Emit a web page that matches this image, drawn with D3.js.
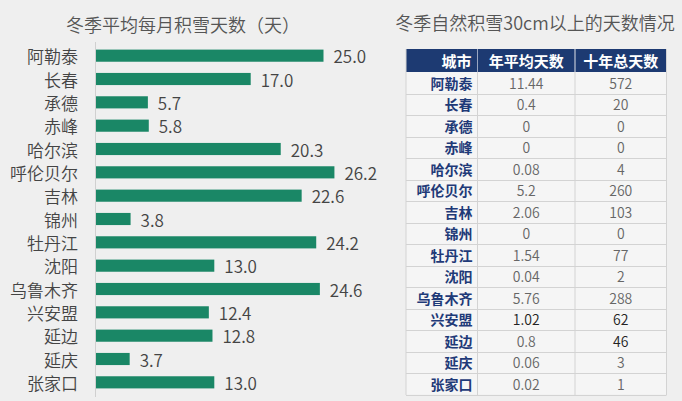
<!DOCTYPE html>
<html lang="zh">
<head>
<meta charset="UTF-8">
<script src="https://d3js.org/d3.v7.min.js"></script>
<title>冬季积雪天数</title>
<style>
  body { margin: 0; background: #efefef; }
  svg { display: block; font-family: "Noto Sans CJK SC", "Noto Sans", sans-serif; }
</style>
</head>
<body>
<svg id="chart"></svg>
<script>
// 城市
const cities = ["阿勒泰", "长春", "承德", "赤峰", "哈尔滨", "呼伦贝尔", "吉林", "锦州",
                "牡丹江", "沈阳", "乌鲁木齐", "兴安盟", "延边", "延庆", "张家口"];
// 冬季平均每月积雪天数
const monthlySnowDays = [25.0, 17.0, 5.7, 5.8, 20.3, 26.2, 22.6, 3.8, 24.2, 13.0, 24.6, 12.4, 12.8, 3.7, 13.0];
// 年平均天数 (积雪30cm以上)
const yearlyAvg = ["11.44", "0.4", "0", "0", "0.08", "5.2", "2.06", "0", "1.54", "0.04", "5.76", "1.02", "0.8", "0.06", "0.02"];
// 十年总天数
const tenYearTotal = ["572", "20", "0", "0", "4", "260", "103", "0", "77", "2", "288", "62", "46", "3", "1"];
const tableHeaders = ["城市", "年平均天数", "十年总天数"];

const W = 682, H = 401;
const svg = d3.select("#chart").attr("width", W).attr("height", H);

// ---------- left: bar chart ----------
svg.append("text")
   .attr("x", 183).attr("y", 24)
   .attr("text-anchor", "middle").attr("dominant-baseline", "central")
   .attr("font-size", 18).attr("font-weight", 350).attr("fill", "#555")
   .text("冬季平均每月积雪天数（天）");

const x = d3.scaleLinear().domain([0, 30]).range([96, 96 + 9.1 * 30]);
const y = d3.scaleBand().domain(cities).range([44, 394]).paddingInner(0.48).paddingOuter(0.24);

svg.append("line")
   .attr("x1", 95.5).attr("x2", 95.5).attr("y1", 42).attr("y2", 397)
   .attr("stroke", "#d0d0d0").attr("stroke-width", 1);

svg.selectAll("rect.bar")
   .data(cities)
   .enter()
   .append("rect")
   .attr("class", "bar")
   .attr("x", x(0))
   .attr("y", d => y(d))
   .attr("width", (d, i) => x(monthlySnowDays[i]) - x(0))
   .attr("height", y.bandwidth())
   .attr("fill", "#1a8766");

svg.selectAll("text.val")
   .data(cities)
   .enter()
   .append("text")
   .attr("class", "val")
   .attr("x", (d, i) => x(monthlySnowDays[i]) + 10)
   .attr("y", d => y(d) + y.bandwidth() / 2)
   .attr("dominant-baseline", "central")
   .attr("font-size", 17).attr("font-weight", 350).attr("fill", "#444")
   .text((d, i) => monthlySnowDays[i].toFixed(1));

svg.selectAll("text.cat")
   .data(cities)
   .enter()
   .append("text")
   .attr("class", "cat")
   .attr("x", 78)
   .attr("y", d => y(d) + y.bandwidth() / 2)
   .attr("text-anchor", "end").attr("dominant-baseline", "central")
   .attr("font-size", 17).attr("font-weight", 350).attr("fill", "#444")
   .text(d => d);

// ---------- right: table ----------
svg.append("text")
   .attr("x", 535).attr("y", 22)
   .attr("text-anchor", "middle").attr("dominant-baseline", "central")
   .attr("font-size", 18).attr("font-weight", 350).attr("fill", "#555")
   .text("冬季自然积雪30cm以上的天数情况");

const colEdges = [406, 477.5, 575, 666.5];
const headTop = 49, headBottom = 72;
const row = d3.scaleBand().domain(cities).range([headBottom, 394.5]);

const tbl = svg.append("g");

tbl.append("rect")
   .attr("x", colEdges[0]).attr("y", headBottom)
   .attr("width", colEdges[3] - colEdges[0]).attr("height", 394.5 - headBottom)
   .attr("fill", "#f5f5f5");

tbl.append("rect")
   .attr("x", colEdges[0]).attr("y", headTop)
   .attr("width", colEdges[3] - colEdges[0]).attr("height", headBottom - headTop)
   .attr("fill", "#1d3a72");

// grid lines
tbl.selectAll("line.h")
   .data(cities)
   .enter()
   .append("line")
   .attr("x1", colEdges[0]).attr("x2", colEdges[3])
   .attr("y1", d => Math.round(row(d) + row.bandwidth()) + 0.5)
   .attr("y2", d => Math.round(row(d) + row.bandwidth()) + 0.5)
   .attr("stroke", "#d3d3d3");

tbl.selectAll("line.v")
   .data(colEdges)
   .enter()
   .append("line")
   .attr("x1", d => d).attr("x2", d => d)
   .attr("y1", headTop)
   .attr("y2", 395)
   .attr("stroke", "#d3d3d3");

// header vertical dividers on dark header
tbl.selectAll("line.hv")
   .data(colEdges.slice(1, 3))
   .enter()
   .append("line")
   .attr("x1", d => d).attr("x2", d => d)
   .attr("y1", headTop).attr("y2", headBottom)
   .attr("stroke", "#8a9bbd").attr("stroke-width", 0.8);

// header text
tbl.append("text")
   .attr("x", colEdges[1] - 6).attr("y", (headTop + headBottom) / 2)
   .attr("text-anchor", "end").attr("dominant-baseline", "central")
   .attr("font-size", 15).attr("font-weight", "bold").attr("fill", "#fff")
   .text(tableHeaders[0]);
[1, 2].forEach(c => {
  tbl.append("text")
     .attr("x", (colEdges[c] + colEdges[c + 1]) / 2).attr("y", (headTop + headBottom) / 2)
     .attr("text-anchor", "middle").attr("dominant-baseline", "central")
     .attr("font-size", 15).attr("font-weight", "bold").attr("fill", "#fff")
     .text(tableHeaders[c]);
});

// body
tbl.selectAll("text.city")
   .data(cities)
   .enter()
   .append("text")
   .attr("x", colEdges[1] - 5)
   .attr("y", d => row(d) + row.bandwidth() / 2)
   .attr("text-anchor", "end").attr("dominant-baseline", "central")
   .attr("font-size", 14).attr("font-weight", "bold").attr("fill", "#1f3a78")
   .text(d => d);

const darkRows = ["兴安盟", "延边"];
[yearlyAvg, tenYearTotal].forEach((col, k) => {
  tbl.selectAll("text.c" + k)
     .data(cities)
     .enter()
     .append("text")
     .attr("x", (colEdges[k + 1] + colEdges[k + 2]) / 2)
     .attr("y", d => row(d) + row.bandwidth() / 2)
     .attr("text-anchor", "middle").attr("dominant-baseline", "central")
     .attr("font-size", 14).attr("font-weight", 350)
     .attr("fill", d => darkRows.includes(d) && !(k === 0 && d === "延边") ? "#222" : "#666")
     .text((d, i) => col[i]);
});
</script>
</body>
</html>
